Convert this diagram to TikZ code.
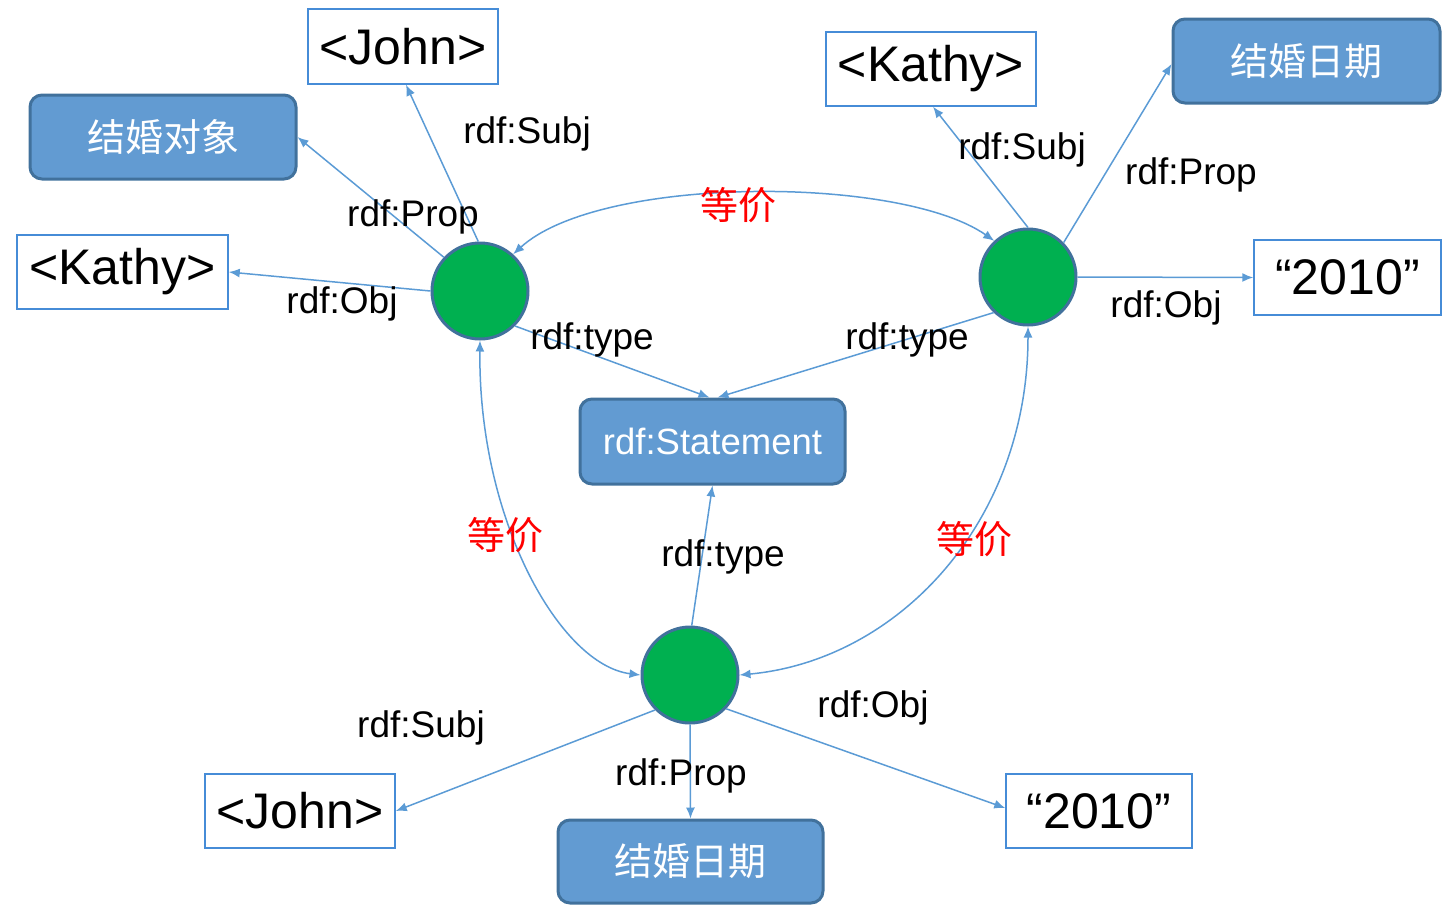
\documentclass[tikz,border=0pt]{standalone}
\usepackage{fontspec}
\setmainfont{Liberation Sans}
\newfontfamily\cjk{Noto Sans CJK SC}
\usetikzlibrary{arrows.meta}
\definecolor{boxfill}{RGB}{98,155,210}
\definecolor{boxline}{RGB}{65,113,156}
\definecolor{tline}{RGB}{70,140,215}
\definecolor{arr}{RGB}{91,155,213}
\definecolor{circfill}{RGB}{0,176,80}
\tikzset{
 tbox/.style={draw=tline, line width=1.5pt, fill=white, minimum width=190pt, minimum height=75pt, inner sep=0pt, font=\fontsize{50}{58}\selectfont},
 cbox/.style={draw=boxline, line width=3pt, fill=boxfill, rounded corners=12pt, minimum width=266pt, minimum height=84pt, inner sep=0pt, text=white, font=\cjk\fontsize{38}{44}\selectfont},
 sbox/.style={cbox, font=\fontsize{36.5}{42}\selectfont},
 blank/.style={draw=boxline, line width=3pt, fill=circfill, circle, minimum size=96pt, inner sep=0pt},
 conn/.style={draw=arr, line width=1.5pt, -{Latex[length=11pt,width=9pt]}},
 conn2/.style={draw=arr, line width=1.5pt, {Latex[length=11pt,width=9pt]}-{Latex[length=11pt,width=9pt]}},
 lbl/.style={font=\fontsize{37}{42}\selectfont, inner sep=0pt},
 eq/.style={font=\cjk\fontsize{38}{44}\selectfont, text=red, inner sep=0pt},
}
\begin{document}
\begin{tikzpicture}[x=1pt,y=-1pt]
\useasboundingbox (0,0) rectangle (1445,906);
% boxes
\node[tbox] (john1) at (403,46.5) {<John>};
\node[cbox, minimum width=266pt] (obj) at (163,137) {结婚对象};
\node[tbox, minimum width=211pt, minimum height=74pt] (kathyL) at (122.5,272) {<Kathy>};
\node[tbox, minimum width=210pt, minimum height=74pt] (kathyR) at (931,69) {<Kathy>};
\node[cbox, minimum width=267pt] (dateTR) at (1306.5,61) {结婚日期};
\node[tbox, minimum width=187pt] (yR) at (1347.5,277.5) {“2010”};
\node[sbox, minimum width=265pt, minimum height=85pt] (stmt) at (712.5,441.5) {rdf:Statement};
\node[tbox, minimum height=74pt] (johnB) at (300,811) {<John>};
\node[cbox, minimum width=265pt, minimum height=83pt] (dateB) at (690.5,861.5) {结婚日期};
\node[tbox, minimum width=186pt, minimum height=74pt] (yB) at (1099,811) {“2010”};
% blank nodes
\node[blank] (lc) at (480,291) {};
\node[blank] (rc) at (1028,277) {};
\node[blank] (bc) at (690,675) {};
% connectors
\draw[conn] (lc.92) -- ([xshift=3pt]john1.south);
\draw[conn] (lc.137) -- (obj.east);
\draw[conn] (lc.west) -- (kathyL.east);
\draw[conn] (lc.-45) -- ([xshift=-3pt]stmt.north);
\draw[conn] (rc.-134) -- ([xshift=5pt]stmt.north);
\draw[conn] (rc.north) -- ([xshift=2pt]kathyR.south);
\draw[conn] (rc.44) -- ([yshift=-3pt]dateTR.west);
\draw[conn] (rc.east) -- (yR.west);
\draw[conn] (bc.88) -- (stmt.south);
\draw[conn] (bc.-135) -- (johnB.east);
\draw[conn] (bc.south) -- (dateB.north);
\draw[conn] (bc.-43) -- ([yshift=3pt]yB.west);
\draw[conn2] (lc.48) .. controls (600,175) and (900,175) .. (rc.133);
\draw[conn2] (lc.south) .. controls (478,520) and (560,665) .. (bc.west);
\draw[conn2] (rc.south) .. controls (1028,520) and (900,660) .. (bc.east);
% labels
\node[lbl] (l1) at (527,134) {rdf:Subj};
\node[lbl] (l2) at (413,217) {rdf:Prop};
\node[lbl] (l3) at (342,304) {rdf:Obj};
\node[lbl] (l4) at (592,340) {rdf:type};
\node[lbl] (l5) at (1022,150) {rdf:Subj};
\node[lbl] (l6) at (1191,175) {rdf:Prop};
\node[lbl] (l7) at (1166,308) {rdf:Obj};
\node[lbl] (l8) at (907,340) {rdf:type};
\node[lbl] (l9) at (723,557) {rdf:type};
\node[lbl] (l10) at (873,708) {rdf:Obj};
\node[lbl] (l11) at (421,728) {rdf:Subj};
\node[lbl] (l12) at (681,776) {rdf:Prop};
\node[eq] (e1) at (738,205) {等价};
\node[eq] (e2) at (505,535) {等价};
\node[eq] (e3) at (974,539) {等价};
\end{tikzpicture}
\end{document}
